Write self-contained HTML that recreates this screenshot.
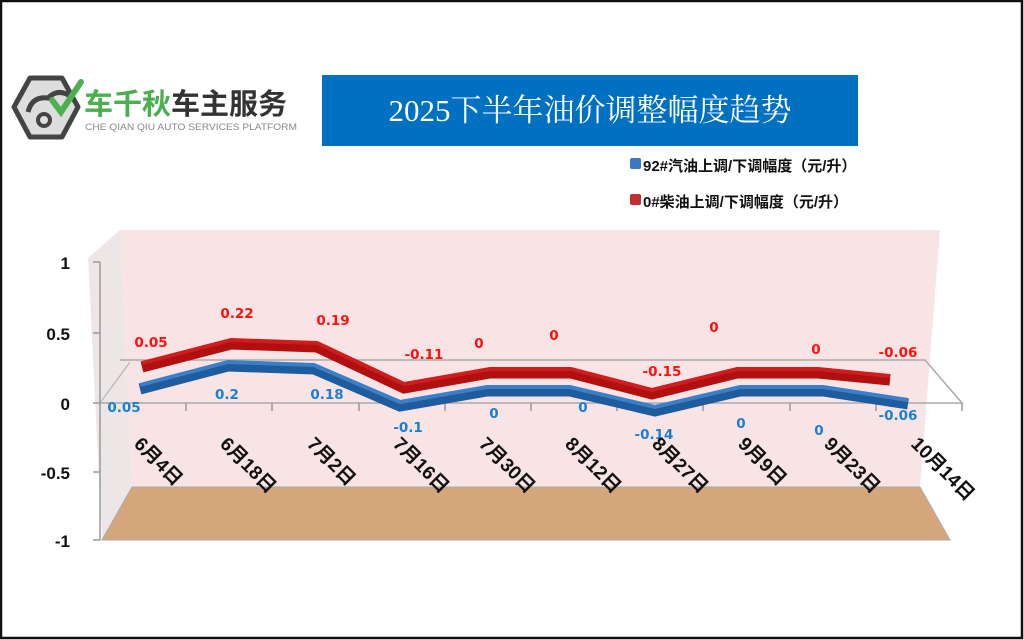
<!DOCTYPE html>
<html><head><meta charset="utf-8"><style>
html,body{margin:0;padding:0;background:#fff}
svg{display:block}
</style></head><body>
<svg width="1024" height="640" viewBox="0 0 1024 640" xmlns="http://www.w3.org/2000/svg" font-family="'Liberation Sans','Noto Sans CJK SC',sans-serif">
<rect x="0" y="0" width="1024" height="640" fill="#fff"/>
<rect x="1" y="1" width="1021" height="637" fill="none" stroke="#111" stroke-width="2.5"/>
<g>
<polygon points="30,78 62,78 78,107 62,137 30,137 14,107" fill="#ddd" stroke="#444" stroke-width="5" stroke-linejoin="round"/>
<path d="M28,112 q4,-16 20,-14 q10,-10 22,-2" fill="none" stroke="#444" stroke-width="5"/>
<circle cx="44" cy="120" r="6" fill="none" stroke="#444" stroke-width="4"/>
<path d="M52,100 l9,12 l20,-30" fill="none" stroke="#4caf50" stroke-width="6" stroke-linecap="round"/>
<text x="84" y="114" font-size="29" font-weight="bold" fill="#4bae4f">车千秋<tspan fill="#333">车主服务</tspan></text>
<text x="85" y="130" font-size="9.6" fill="#888" textLength="212" lengthAdjust="spacingAndGlyphs">CHE QIAN QIU AUTO SERVICES PLATFORM</text>
</g>
<rect x="322" y="75" width="536" height="71" fill="#0070c0"/>
<text x="590" y="121" font-size="31" fill="#fff" text-anchor="middle" font-family="'Liberation Serif','Noto Serif CJK SC',serif">2025下半年油价调整幅度趋势</text>
<rect x="630" y="158" width="11" height="11" rx="2" fill="#3a78c2"/>
<text x="643" y="171" font-size="15" font-weight="bold" fill="#111">92#汽油上调/下调幅度（元/升）</text>
<rect x="630" y="194" width="11" height="11" rx="2" fill="#c03030"/>
<text x="643" y="207" font-size="15" font-weight="bold" fill="#111">0#柴油上调/下调幅度（元/升）</text>
<polygon points="120,230 940,230 920,487 132,487" fill="#f8e4e4"/>
<polygon points="88,258 120,230 132,487 102,540" fill="#ece6e6"/>
<polygon points="132,487 920,487 950,540 102,540" fill="#d5a67c" stroke="#aaa" stroke-width="1"/>
<polyline points="100,403 962,403 925,360 120,360" fill="none" stroke="#aaa" stroke-width="1.5"/>
<line x1="100" y1="403" x2="130" y2="362" stroke="#aaa" stroke-width="1"/>
<line x1="100" y1="262" x2="100" y2="540" stroke="#999" stroke-width="1.5"/>
<g stroke="#999" stroke-width="1.5">
<line x1="93" y1="262" x2="100" y2="262"/><line x1="93" y1="333" x2="100" y2="333"/><line x1="93" y1="403" x2="100" y2="403"/><line x1="93" y1="472" x2="100" y2="472"/><line x1="93" y1="540" x2="100" y2="540"/>
<line x1="186" y1="403" x2="186" y2="411"/><line x1="272" y1="403" x2="272" y2="411"/><line x1="359" y1="403" x2="359" y2="411"/><line x1="445" y1="403" x2="445" y2="411"/><line x1="531" y1="403" x2="531" y2="411"/><line x1="617" y1="403" x2="617" y2="411"/><line x1="703" y1="403" x2="703" y2="411"/><line x1="790" y1="403" x2="790" y2="411"/><line x1="876" y1="403" x2="876" y2="411"/><line x1="962" y1="403" x2="962" y2="411"/>
</g>
<g font-size="17" font-weight="bold" fill="#111" text-anchor="end">
<text x="70" y="269">1</text><text x="70" y="340">0.5</text><text x="70" y="410">0</text><text x="70" y="479">-0.5</text><text x="70" y="547">-1</text>
</g>
<polyline points="142,367 231,344 317,347 404,388 490,373 571,373 652,394 737,373 818,373 890,380" fill="none" stroke="#b01010" stroke-width="11"/>
<polyline points="142,363 231,340 317,343 404,384 490,369 571,369 652,390 737,369 818,369 890,376" fill="none" stroke="#d01c1c" stroke-width="4"/>
<polyline points="140,389 228,366 314,369 400,406 487,391 570,391 655,411 740,391 823,391 908,404" fill="none" stroke="#1f5c9e" stroke-width="11"/>
<polyline points="140,385 228,362 314,365 400,402 487,387 570,387 655,407 740,387 823,387 908,400" fill="none" stroke="#3b7fc8" stroke-width="4"/>
<g font-size="13.5" font-weight="bold" fill="#ff1010" text-anchor="middle" font-family="'DejaVu Sans',sans-serif">
<text x="151" y="347">0.05</text><text x="237" y="318">0.22</text><text x="333" y="325">0.19</text><text x="424" y="359">-0.11</text><text x="479" y="348">0</text><text x="554" y="340">0</text><text x="662" y="376">-0.15</text><text x="714" y="332">0</text><text x="816" y="354">0</text><text x="898" y="357">-0.06</text>
</g>
<g font-size="13.5" font-weight="bold" fill="#1a7fd0" text-anchor="middle" font-family="'DejaVu Sans',sans-serif">
<text x="124" y="412">0.05</text><text x="227" y="399">0.2</text><text x="327" y="399">0.18</text><text x="408" y="432">-0.1</text><text x="494" y="418">0</text><text x="583" y="412">0</text><text x="654" y="439">-0.14</text><text x="741" y="428">0</text><text x="819" y="435">0</text><text x="898" y="420">-0.06</text>
</g>
<g font-size="19" font-weight="bold" fill="#111">
<text transform="translate(133,445) rotate(45)">6月4日</text>
<text transform="translate(219,445) rotate(45)">6月18日</text>
<text transform="translate(306,445) rotate(45)">7月2日</text>
<text transform="translate(392,445) rotate(45)">7月16日</text>
<text transform="translate(478,445) rotate(45)">7月30日</text>
<text transform="translate(564,445) rotate(45)">8月12日</text>
<text transform="translate(651,445) rotate(45)">8月27日</text>
<text transform="translate(737,445) rotate(45)">9月9日</text>
<text transform="translate(823,445) rotate(45)">9月23日</text>
<text transform="translate(910,445) rotate(45)">10月14日</text>
</g>
</svg>
</body></html>
